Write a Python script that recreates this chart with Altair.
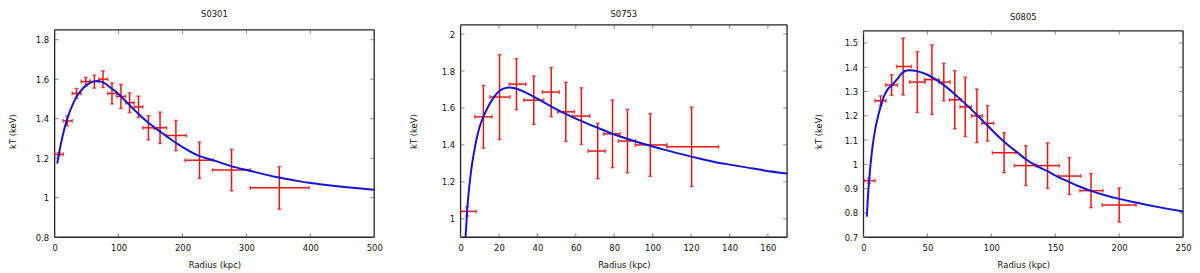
import altair as alt
import pandas as pd

FONT = "DejaVu Sans"
RED = "#ee1414"
BLUE = "#1414d8"
FRAME = "#222222"
TICKC = "#555555"

# ---------------- S0301 ----------------
s1_r = [6.7, 19.7, 34.2, 48.7, 62.2, 75.7, 89.7, 103.7, 117.2, 131.2, 146.7, 164.9, 189.7, 226.6, 276.8, 351.5]
s1_rlo = [0, 13.5, 27.5, 41.5, 55.5, 69, 83, 97, 111, 124.5, 138, 156, 175, 204, 247, 306]
s1_rhi = [13.5, 27.5, 41.5, 55.5, 69, 83, 97, 111, 124.5, 138, 156, 175, 206, 248, 306, 398]
s1_kT = [1.22, 1.389, 1.528, 1.588, 1.588, 1.600, 1.528, 1.513, 1.481, 1.460, 1.354, 1.354, 1.315, 1.190, 1.140, 1.050]
s1_err = [0.008, 0.025, 0.025, 0.021, 0.033, 0.042, 0.053, 0.061, 0.050, 0.054, 0.061, 0.079, 0.076, 0.092, 0.105, 0.108]
s1_cr = [4.1, 9.3, 14.5, 19.7, 27.5, 35.2, 45.6, 56, 66.3, 76.7, 87.1, 97.4, 107.8, 123.4, 131.2,
         146.7, 164.9, 189.7, 226.6, 250.4, 276, 305, 330, 351, 375, 398, 425, 450, 475, 500]
s1_ckT = [1.173, 1.265, 1.34, 1.399, 1.466, 1.516, 1.558, 1.583, 1.591, 1.583, 1.558, 1.533, 1.5, 1.449, 1.424,
          1.38, 1.335, 1.278, 1.211, 1.188, 1.16, 1.137, 1.117, 1.102, 1.088, 1.076, 1.065, 1.056, 1.048, 1.04]
s1_xticks = [0, 100, 200, 300, 400, 500]
s1_yticks = [0.8, 1.0, 1.2, 1.4, 1.6, 1.8]

# ---------------- S0753 ----------------
s2_r = [3.4, 11.9, 20.3, 29.1, 38.1, 47.2, 54.8, 62.9, 71.4, 79.1, 86.9, 98.8, 120.3]
s2_rlo = [0, 7.4, 15.3, 25.3, 32.9, 42.6, 50.5, 58.3, 66.4, 74.5, 82.2, 90.9, 107.4]
s2_rhi = [8.1, 16.4, 25.7, 34.0, 43.3, 51.4, 59.3, 67.2, 75.3, 83.1, 91.2, 107.4, 134.3]
s2_kT = [1.04, 1.552, 1.659, 1.729, 1.642, 1.686, 1.579, 1.556, 1.367, 1.46, 1.421, 1.40, 1.39]
s2_err = [0.025, 0.17, 0.23, 0.138, 0.131, 0.133, 0.16, 0.153, 0.15, 0.183, 0.172, 0.17, 0.215]
s2_cr = [2.6, 3.4, 4.5, 5.5, 7, 8.5, 10, 11.9, 14, 16.5, 19, 22, 25, 28.8, 34, 40.9, 47.8, 54.7,
         63.3, 71.9, 80.5, 89.1, 97.8, 106.4, 115, 123.6, 132.2, 140.9, 149.5, 158.1, 170]
s2_ckT = [0.90, 1.04, 1.17, 1.26, 1.36, 1.44, 1.50, 1.552, 1.60, 1.645, 1.68, 1.703, 1.711, 1.705, 1.683,
          1.645, 1.605, 1.568, 1.527, 1.49, 1.455, 1.425, 1.398, 1.373, 1.35, 1.328, 1.308, 1.292, 1.277,
          1.262, 1.245]
s2_xticks = [0, 20, 40, 60, 80, 100, 120, 140, 160]
s2_yticks = [1.0, 1.2, 1.4, 1.6, 1.8, 2.0]

# ---------------- S0805 ----------------
s3_r = [4.4, 13.4, 22, 31, 42.1, 53.5, 62.8, 71.4, 79.6, 88.7, 97, 110, 127, 144, 161, 178, 200]
s3_rlo = [0.5, 9, 17.3, 25.9, 36, 47.8, 59.2, 67.2, 75.5, 84.5, 92.5, 100.8, 118, 134.7, 152.5, 169.3, 186.7]
s3_rhi = [9, 17.6, 26.6, 37.5, 48.3, 59.2, 67.7, 76.3, 84.5, 93, 102, 119.4, 135.7, 153.3, 170, 187.4, 213.3]
s3_kT = [0.933, 1.262, 1.327, 1.403, 1.339, 1.349, 1.339, 1.266, 1.237, 1.2, 1.169, 1.048, 0.995, 0.995,
         0.952, 0.892, 0.833]
s3_err = [0.01, 0.02, 0.042, 0.117, 0.125, 0.143, 0.077, 0.12, 0.122, 0.11, 0.073, 0.082, 0.082, 0.094,
          0.076, 0.07, 0.07]
s3_cr = [2.6, 3.5, 4.5, 5.5, 7, 9, 11, 13, 16, 19, 22, 27, 30, 35, 42.7, 50.4, 58.2, 65.9, 73.7, 81.4,
         89.2, 97, 104.7, 112.5, 120.2, 127, 135, 144, 151, 159, 168, 178, 189, 200, 210, 221, 235, 250]
s3_ckT = [0.785, 0.87, 0.94, 1.0, 1.07, 1.14, 1.19, 1.23, 1.28, 1.31, 1.325, 1.355, 1.375, 1.388, 1.383,
          1.368, 1.344, 1.314, 1.278, 1.241, 1.201, 1.16, 1.119, 1.082, 1.05, 1.021, 0.995, 0.972, 0.952,
          0.932, 0.911, 0.891, 0.873, 0.858, 0.846, 0.834, 0.82, 0.806]
s3_xticks = [0, 50, 100, 150, 200, 250]
s3_yticks = [0.7, 0.8, 0.9, 1.0, 1.1, 1.2, 1.3, 1.4, 1.5]

H = 214


def panel(title, t_off, r, rlo, rhi, kT, err, cr, ckT, xmax, xticks,
          ymin, yframe, ytop, yticks, width, ytpad):
    xs = alt.Scale(domain=[0, xmax], nice=False, zero=False)
    ys = alt.Scale(domain=[ymin, ytop], nice=False, zero=False)
    xax = alt.Axis(values=xticks, title="Radius (kpc)", format="~f", labelPadding=6,
                   titlePadding=9, labelFlush=False)
    yax = alt.Axis(values=yticks, title="kT (keV)", format="~f", labelPadding=6,
                   titlePadding=ytpad, labelFlush=False)
    pts = pd.DataFrame({"r": r, "rlo": rlo, "rhi": rhi, "kT": kT,
                        "lo": [k - e for k, e in zip(kT, err)],
                        "hi": [k + e for k, e in zip(kT, err)]})
    cur = pd.DataFrame({"cr": cr, "ckT": ckT})
    frame = pd.DataFrame({"x": [0, xmax, 0, 0], "x2": [0, xmax, xmax, xmax],
                          "y": [ymin, ymin, ymin, yframe], "y2": [yframe, yframe, ymin, yframe]})
    xt = pd.DataFrame({"v": xticks, "yb": [ymin] * len(xticks), "yt": [yframe] * len(xticks)})
    yt = pd.DataFrame({"v": yticks, "xl": [0] * len(yticks), "xr": [xmax] * len(yticks)})

    def X(f):
        return alt.X(f, scale=xs, axis=xax)

    def Y(f):
        return alt.Y(f, scale=ys, axis=yax)

    fr = alt.Chart(frame).mark_rule(color=FRAME, strokeWidth=1.3).encode(
        x=X("x:Q"), x2="x2:Q", y=Y("y:Q"), y2="y2:Q")
    tb = alt.Chart(xt).mark_tick(orient="vertical", size=4, thickness=1, color=TICKC, yOffset=-2).encode(
        x=X("v:Q"), y=Y("yb:Q"))
    tt = alt.Chart(xt).mark_tick(orient="vertical", size=4, thickness=1, color=TICKC, yOffset=2).encode(
        x=X("v:Q"), y=Y("yt:Q"))
    tl = alt.Chart(yt).mark_tick(orient="horizontal", size=4, thickness=1, color=TICKC, xOffset=2).encode(
        x=X("xl:Q"), y=Y("v:Q"))
    tr = alt.Chart(yt).mark_tick(orient="horizontal", size=4, thickness=1, color=TICKC, xOffset=-2).encode(
        x=X("xr:Q"), y=Y("v:Q"))

    xe = alt.Chart(pts).mark_rule(color=RED, strokeWidth=1.5).encode(x=X("rlo:Q"), x2="rhi:Q", y=Y("kT:Q"))
    ye = alt.Chart(pts).mark_rule(color=RED, strokeWidth=1.5).encode(x=X("r:Q"), y=Y("lo:Q"), y2="hi:Q")
    xc = alt.Chart(pts).transform_fold(["rlo", "rhi"], as_=["k", "xc"]).mark_tick(
        orient="vertical", size=4, thickness=1.5, color=RED).encode(x=X("xc:Q"), y=Y("kT:Q"))
    yc = alt.Chart(pts).transform_fold(["lo", "hi"], as_=["k", "yc"]).mark_tick(
        orient="horizontal", size=4, thickness=1.5, color=RED).encode(x=X("r:Q"), y=Y("yc:Q"))

    line = alt.Chart(cur).mark_line(color=BLUE, strokeWidth=2, clip=True, interpolate="monotone").encode(
        x=X("cr:Q"), y=Y("ckT:Q"))
    return alt.layer(fr, tb, tt, tl, tr, xe, ye, xc, yc, line).properties(
        width=width, height=H, title=alt.TitleParams(title, offset=t_off))


p1 = panel("S0301", 6, s1_r, s1_rlo, s1_rhi, s1_kT, s1_err, s1_cr, s1_ckT, 500, s1_xticks,
           0.8, 1.85, 1.8751, s1_yticks, 322, 18)
p2 = panel("S0753", 6, s2_r, s2_rlo, s2_rhi, s2_kT, s2_err, s2_cr, s2_ckT, 170, s2_xticks,
           0.9, 2.05, 2.05, s2_yticks, 329, 23)
p3 = panel("S0805", 3, s3_r, s3_rlo, s3_rhi, s3_kT, s3_err, s3_cr, s3_ckT, 250, s3_xticks,
           0.7, 1.55, 1.5745, s3_yticks, 322, 21)

chart = alt.hconcat(p1, p2, p3, spacing=26).properties(
    padding={"left": 0, "top": 0, "right": 0, "bottom": 0}
).configure_view(stroke=None).configure_axis(
    labelFont=FONT, titleFont=FONT, labelFontSize=8.5, titleFontSize=8.5,
    titleFontWeight="normal", labelColor="#111111", titleColor="#111111",
    domain=False, ticks=False, tickSize=0, grid=False
).configure_title(font=FONT, fontSize=8.5, fontWeight="normal", color="#111111")

chart.save("out.html", embed_options={"renderer": "svg", "actions": False})
